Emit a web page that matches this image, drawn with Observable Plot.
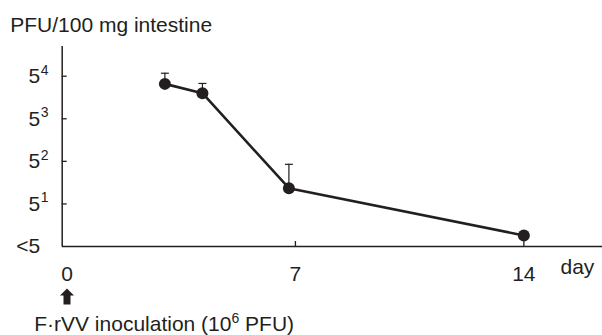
<!DOCTYPE html>
<html><head><meta charset="utf-8">
<script src="https://cdn.jsdelivr.net/npm/d3@7"></script>
<script src="https://cdn.jsdelivr.net/npm/@observablehq/plot@0.6"></script>
<style>body{margin:0;background:#fff} svg{display:block}</style>
</head><body><div id="chart"></div>
<script>
// Data (y in log5 units above the detection limit "<5")
const days = [3, 4.15, 6.8, 14];
const logTiter = [3.82, 3.60, 1.37, 0.26];
const errorTop = [4.07, 3.83, 1.93, null];
const yTickValues = [0, 1, 2, 3, 4];
const yTickBase = ["<5", "5", "5", "5", "5"];
const yTickExp = ["", "1", "2", "3", "4"];
const xTickValues = [0, 7, 14];
const xTickLabels = ["0", "7", "14"];
const xInnerTicks = [7, 14];
const inoculationDay = [0];
const yTitle = "PFU/100 mg intestine";
const xTitle = "day";
const captionMain = "F·rVV inoculation (10";
const captionSup = "6";
const captionEnd = " PFU)";

const ink = "#231f20";
const font = "Liberation Sans, Arial, Helvetica, sans-serif";
const fs = 21;
const fsSup = 14;

const points = days.map((d, i) => ({day: d, v: logTiter[i], top: errorTop[i]}));
const errs = points.filter(p => p.top != null);
const yTicks = yTickValues.map((v, i) => ({v, base: yTickBase[i], exp: yTickExp[i]}));
const xTicks = xTickValues.map((v, i) => ({v, label: xTickLabels[i]}));

const arrowSymbol = {
  draw(ctx) {
    ctx.moveTo(0, -8); ctx.lineTo(7, -1); ctx.lineTo(3.5, -1); ctx.lineTo(3.5, 8);
    ctx.lineTo(-3.5, 8); ctx.lineTo(-3.5, -1); ctx.lineTo(-7, -1); ctx.closePath();
  }
};
const capSymbol = {
  draw(ctx) { ctx.moveTo(-4, 0); ctx.lineTo(4, 0); }
};

const chart = Plot.plot({
  width: 602, height: 335,
  marginLeft: 61.7, marginRight: 0, marginTop: 46, marginBottom: 89,
  style: {fontFamily: font, color: ink, background: "#fff"},
  x: {domain: [-0.147, 16.41], axis: null},
  y: {domain: [0, 4.698], axis: null},
  marks: [
    Plot.ruleY([0], {stroke: ink, strokeWidth: 1.5}),
    Plot.ruleX([-0.147], {stroke: ink, strokeWidth: 1.5}),
    Plot.axisY({ticks: yTickValues.slice(1), tickSize: -5, text: null, stroke: ink, strokeWidth: 1.3}),
    Plot.axisX({ticks: xInnerTicks, tickSize: -5, text: null, stroke: ink, strokeWidth: 1.3}),
    Plot.text(yTicks, {y: "v", text: "base", frameAnchor: "left", textAnchor: "end", dx: -22, fontSize: fs, fill: ink}),
    Plot.text(yTicks, {y: "v", text: "exp", frameAnchor: "left", textAnchor: "start", dx: -21.5, dy: -6, fontSize: fsSup, fill: ink}),
    Plot.text(xTicks, {x: "v", text: "label", frameAnchor: "bottom", lineAnchor: "top", dy: 20, fontSize: fs, fill: ink}),
    Plot.text([xTitle], {frameAnchor: "bottom-right", textAnchor: "start", lineAnchor: "bottom", dx: -42, dy: 27, fontSize: fs, fill: ink}),
    Plot.text([yTitle], {frameAnchor: "top-left", textAnchor: "start", lineAnchor: "bottom", dx: -52, dy: -14.3, fontSize: fs, fill: ink}),
    Plot.text([captionMain], {frameAnchor: "bottom-left", textAnchor: "start", lineAnchor: "bottom", dx: -28, dy: 84, fontSize: fs, fill: ink, className: "caption"}),
    Plot.dot(inoculationDay, {x: d => d, frameAnchor: "bottom", dy: 50, symbol: arrowSymbol, r: 8, fill: ink, stroke: "none"}),
    Plot.ruleX(errs, {x: "day", y1: "v", y2: "top", stroke: ink, strokeWidth: 1.2}),
    Plot.dot(errs, {x: "day", y: "top", symbol: capSymbol, r: 4, stroke: ink, strokeWidth: 1.2, fill: "none"}),
    Plot.line(points, {x: "day", y: "v", stroke: ink, strokeWidth: 2.6}),
    Plot.dot(points, {x: "day", y: "v", r: 6, fill: ink, stroke: "none"})
  ]
});
document.getElementById("chart").append(chart);
// superscript on caption
const cap = d3.select(chart).select("g.caption text");
if (!cap.empty()) {
  cap.append("tspan").attr("dy", -8).attr("font-size", fsSup).text(captionSup);
  cap.append("tspan").attr("dy", 8).text(captionEnd);
}
</script>
</body></html>
